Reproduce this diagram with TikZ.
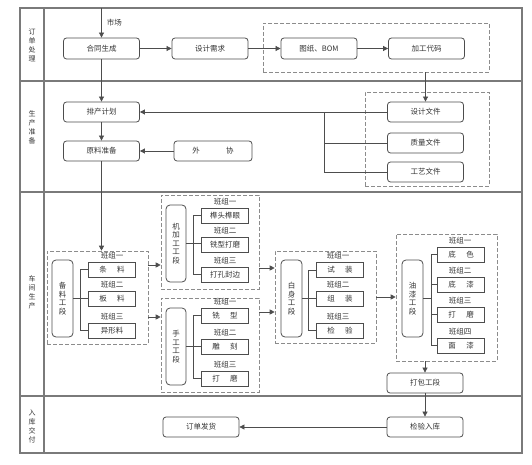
\documentclass[tikz,border=0pt]{standalone}
\usepackage{fontspec}
\setmainfont{Noto Sans CJK SC}
\usetikzlibrary{arrows.meta,calc}
\definecolor{framegray}{HTML}{7A7A7A}
\definecolor{boxgray}{HTML}{4D4D4D}
\definecolor{dashgray}{HTML}{8C8C8C}
\definecolor{txtgray}{HTML}{333333}
\newcommand{\tgap}{\hspace{1.4em}}
\tikzset{
  conn/.style={draw=boxgray,line width=0.7pt},
  arr/.style={conn,-{Triangle[length=5pt,width=5pt]}},
  box/.style={draw=boxgray,line width=0.8pt,rounded corners=3pt,minimum width=76pt,minimum height=20pt,inner sep=0pt,text=txtgray,font=\fontsize{7.5}{8}\selectfont},
  team/.style={draw=boxgray,line width=0.8pt,minimum width=47pt,minimum height=15pt,inner sep=0pt,text=txtgray,font=\fontsize{7.5}{8}\selectfont},
  stage/.style={draw=boxgray,line width=0.8pt,rounded corners=4pt,minimum width=21pt,minimum height=77pt,inner sep=0pt,align=center,text=txtgray,font=\fontsize{7.5}{8.5}\selectfont},
  grp/.style={draw=dashgray,line width=0.6pt,dash pattern=on 4pt off 2pt,inner sep=0pt},
  lab/.style={inner sep=0pt,text=txtgray,font=\fontsize{7.5}{8}\selectfont},
  lane/.style={inner sep=0pt,align=center,text=txtgray,font=\fontsize{7}{9}\selectfont},
}
\begin{document}
\begin{tikzpicture}[x=1pt,y=-1pt]
\useasboundingbox (0,0) rectangle (532,465);
\draw[framegray,line width=1.2pt] (20,8) rectangle (522,453);
\draw[framegray,line width=1.2pt] (44,8) -- (44,453);
\foreach \y in {81,192,396}
	\draw[framegray,line width=1.2pt] (20,\y) -- (522,\y);
\node[lane] (lane1) at (32,45) {订\\单\\处\\理};
\node[lane] (lane2) at (32,127.5) {生\\产\\准\\备};
\node[lane] (lane3) at (32,292) {车\\间\\生\\产};
\node[lane] (lane4) at (32,426) {入\\库\\交\\付};
\node[grp,minimum width=226pt,minimum height=49pt] (g1) at (376,47.5) {};
\node[grp,minimum width=124pt,minimum height=94pt] (g2) at (427,139) {};
\node[grp,minimum width=101pt,minimum height=93pt] (gbl) at (97.5,297.5) {};
\node[grp,minimum width=98pt,minimum height=94pt] (gjjg) at (210,242) {};
\node[grp,minimum width=98pt,minimum height=94pt] (gsg) at (210,345) {};
\node[grp,minimum width=101pt,minimum height=92pt] (gbs) at (325.5,297) {};
\node[grp,minimum width=101pt,minimum height=127pt] (gyq) at (446.5,297.5) {};
\coordinate (mkt) at (101.5,8);
\node[box,minimum height=21pt] (htsc) at (101.5,48.5) {合同生成};
\node[box,minimum height=21pt] (sjxq) at (210,48.5) {设计需求};
\node[box,minimum height=21pt] (tz) at (319,48.5) {图纸、BOM};
\node[box,minimum height=21pt] (jgdm) at (426.5,48.5) {加工代码};
\node[box] (pc) at (101.5,112) {排产计划};
\node[box] (ylzb) at (101.5,151) {原料准备};
\node[box,minimum width=78pt] (wx) at (213,151) {外\hspace{3.5em}协};
\node[box] (sjwj) at (425.5,112) {设计文件};
\node[box] (zlwj) at (425.5,143) {质量文件};
\node[box] (gywj) at (425.5,172) {工艺文件};
\node[stage] (blgd) at (62.5,298.5) {备\\料\\工\\段};
\node[stage,minimum width=20pt] (jjg) at (176,243.5) {机\\加\\工\\工\\段};
\node[stage,minimum width=20pt] (sg) at (176,346.5) {手\\工\\工\\段};
\node[stage] (bs) at (291.5,298.5) {白\\身\\工\\段};
\node[stage] (yq) at (412.5,298.5) {油\\漆\\工\\段};
\foreach \i/\y/\t/\g in {1/269.5/条\tgap 料/一,2/298.5/板\tgap 料/二,3/330.5/异形料/三}{
	\node[team] (bl\i) at (112,\y) {\t};
	\node[lab] (bll\i) at (112,\y-13.5) {班组\g};
}
\foreach \i/\y/\t/\g in {1/215.5/榫头榫眼/一,2/244.5/铣型打磨/二,3/274.5/打孔封边/三}{
	\node[team] (jj\i) at (225,\y) {\t};
	\node[lab] (jjl\i) at (225,\y-13.5) {班组\g};
}
\foreach \i/\y/\t/\g in {1/315.5/铣\tgap 型/一,2/346.5/雕\tgap 刻/二,3/378.5/打\tgap 磨/三}{
	\node[team] (sg\i) at (225,\y) {\t};
	\node[lab] (sgl\i) at (225,\y-13.5) {班组\g};
}
\foreach \i/\y/\t/\g in {1/270/试\tgap 装/一,2/299/组\tgap 装/二,3/330.5/检\tgap 验/三}{
	\node[team] (bs\i) at (340,\y) {\t};
	\node[lab] (bsl\i) at (338,\y-14) {班组\g};
}
\foreach \i/\y/\t/\g in {1/254.5/底\tgap 色/一,2/284.5/底\tgap 漆/二,3/314.5/打\tgap 磨/三,4/345.5/面\tgap 漆/四}{
	\node[team] (yq\i) at (461,\y) {\t};
	\node[lab] (yql\i) at (460,\y-13.5) {班组\g};
}
\node[box] (dbgd) at (425,383) {打包工段};
\node[box] (jyrk) at (425,427) {检验入库};
\node[box] (ddfh) at (201,427) {订单发货};
\draw[conn] (bl1.west) -- ++(-8,0) |- (bl3.west);
\draw[conn] (blgd.east) -- (bl2.west);
\draw[conn] (jj1.west) -- ++(-8,0) |- (jj3.west);
\draw[conn] (jjg.east) -- (jjg.east -| jj2.west);
\draw[conn] (sg1.west) -- ++(-8,0) |- (sg3.west);
\draw[conn] (sg.east) -- (sg.east -| sg2.west);
\draw[conn] (bs1.west) -- ++(-8,0) |- (bs3.west);
\draw[conn] (bs.east) -- (bs.east -| bs2.west);
\draw[conn] (yq1.west) -- ++(-6,0) |- (yq4.west);
\draw[conn] (yq2.west) -- ++(-6,0);
\draw[conn] (yq3.west) -- ++(-6,0);
\draw[conn] (yq.east) -- ++(8,0);
\draw[arr] (mkt) -- (htsc.north) node[lab,midway,right=5pt] {市场};
\draw[arr] (htsc) -- (sjxq);
\draw[arr] (sjxq) -- (tz);
\draw[arr] (tz) -- (jgdm);
\draw[arr] (sjwj.north |- g1.south) -- (sjwj.north);
\draw[arr] (htsc) -- (pc);
\draw[arr] (sjwj) -- (pc);
\draw[conn] (zlwj.west) -- ++(-63,0);
\draw[conn] (gywj.west) -- ++(-63,0) |- (sjwj.west);
\draw[arr] (pc) -- (ylzb);
\draw[arr] (wx) -- (ylzb);
\draw[arr] (ylzb.south) -- (ylzb.south |- gbl.north);
\draw[arr] (gbl.east |- 0,265) -- (gjjg.west |- 0,265);
\draw[arr] (gbl.east |- 0,317) -- (gsg.west |- 0,317);
\draw[arr] (gjjg.east |- 0,268) -- (gbs.west |- 0,268);
\draw[arr] (gsg.east |- 0,312) -- (gbs.west |- 0,312);
\draw[arr] (gbs.east |- 0,297) -- (gyq.west |- 0,297);
\draw[arr] (dbgd.north |- gyq.south) -- (dbgd.north);
\draw[arr] (dbgd) -- (jyrk);
\draw[arr] (jyrk) -- (ddfh);
\end{tikzpicture}
\end{document}
